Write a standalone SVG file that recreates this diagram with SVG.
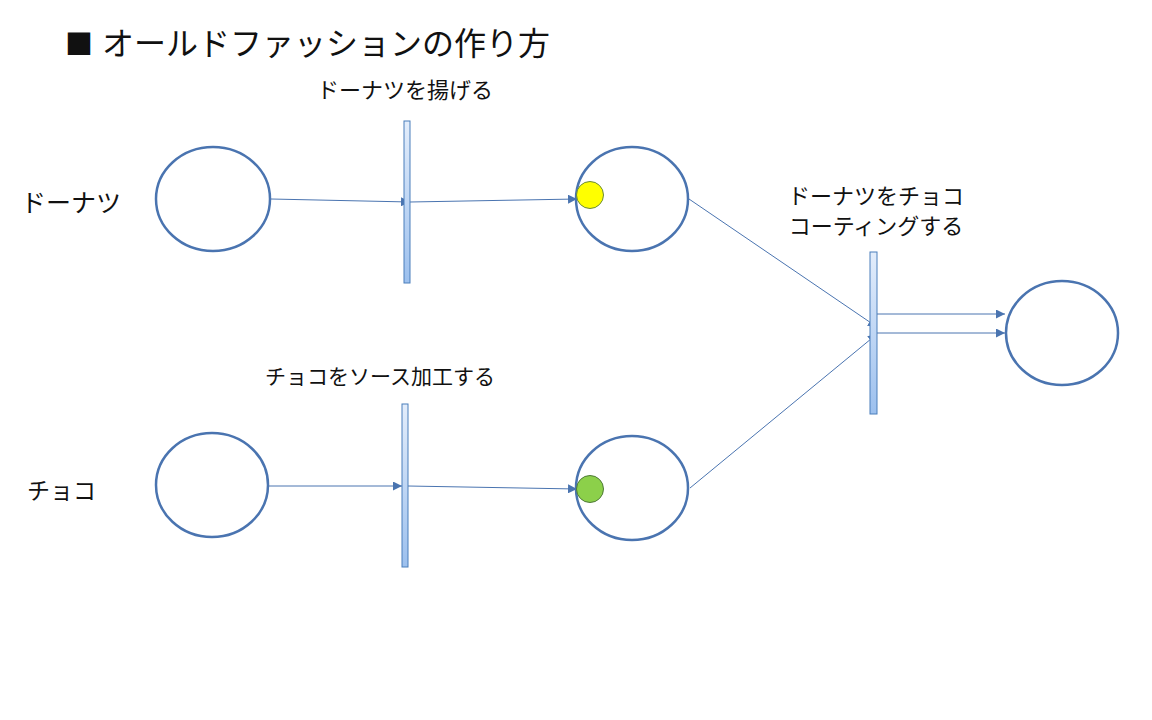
<svg xmlns="http://www.w3.org/2000/svg" width="1152" height="720" viewBox="0 0 1152 720">
<style>
.place{fill:#fff;stroke:#4a74b0;stroke-width:2.5}
.bar{fill:url(#barg);stroke:#4a7ebb;stroke-width:1}
.conn{stroke:#4a74b0;stroke-width:1;fill:none;marker-end:url(#ah)}
text{font-family:"Noto Sans CJK JP","Noto Sans",sans-serif;fill:#111}
.lbl{font-size:22px;text-anchor:middle}
.side{font-size:23px}
</style>
<defs>
<linearGradient id="barg" x1="0" y1="0" x2="0" y2="1">
<stop offset="0" stop-color="#e3edfb"/>
<stop offset="1" stop-color="#9cc0ee"/>
</linearGradient>
<marker id="ah" viewBox="0 0 10 10" refX="10" refY="5" markerWidth="9" markerHeight="9" markerUnits="userSpaceOnUse" orient="auto">
<path d="M0,0 L10,5 L0,10 z" fill="#4a74b0"/>
</marker>
</defs>
<rect width="1152" height="720" fill="#fff"/>
<g id="title">
<text font-size="32"><tspan x="65" y="55" font-size="28">■</tspan><tspan x="102" y="55">オールドファッションの作り方</tspan></text>
</g>
<g id="labels">
<text class="side" x="21" y="212" font-size="25" style="font-size:25px">ドーナツ</text>
<text class="side" x="27" y="499">チョコ</text>
<text class="lbl" x="405" y="98">ドーナツを揚げる</text>
<text class="lbl" x="380" y="384" style="font-size:21px">チョコをソース加工する</text>
<text class="lbl" x="876" y="204">ドーナツをチョコ</text>
<text class="lbl" x="876" y="234">コーティングする</text>
</g>
<g id="connectors">
<line class="conn" x1="271" y1="199" x2="410" y2="202"/>
<line class="conn" x1="410" y1="202" x2="577" y2="199"/>
<line class="conn" x1="269" y1="486" x2="402" y2="486"/>
<line class="conn" x1="408" y1="486" x2="577" y2="489"/>
<line class="conn" x1="689" y1="199" x2="877" y2="327"/>
<line class="conn" x1="690" y1="488" x2="877" y2="334"/>
<line class="conn" x1="870" y1="314" x2="1005" y2="314"/>
<line class="conn" x1="870" y1="333" x2="1005" y2="333"/>
</g>
<g id="place-donut"><ellipse class="place" cx="213" cy="199" rx="57" ry="52"/></g>
<g id="place-choco"><ellipse class="place" cx="212" cy="485" rx="56" ry="52"/></g>
<g id="place-fried"><ellipse class="place" cx="632" cy="199" rx="56" ry="52"/><circle cx="590" cy="195" r="13.5" fill="#ffff00" stroke="#6a8a3a" stroke-width="1"/></g>
<g id="place-sauce"><ellipse class="place" cx="632" cy="488" rx="56" ry="52"/><circle cx="590" cy="489" r="13.5" fill="#8cd04a" stroke="#4f7a38" stroke-width="1"/></g>
<g id="place-result"><ellipse class="place" cx="1062" cy="333" rx="56" ry="52"/></g>
<g id="trans-fry"><rect class="bar" x="404" y="121" width="6" height="162"/></g>
<g id="trans-sauce"><rect class="bar" x="402" y="404" width="6" height="163"/></g>
<g id="trans-coat"><rect class="bar" x="870" y="252" width="7" height="162"/></g>
</svg>
